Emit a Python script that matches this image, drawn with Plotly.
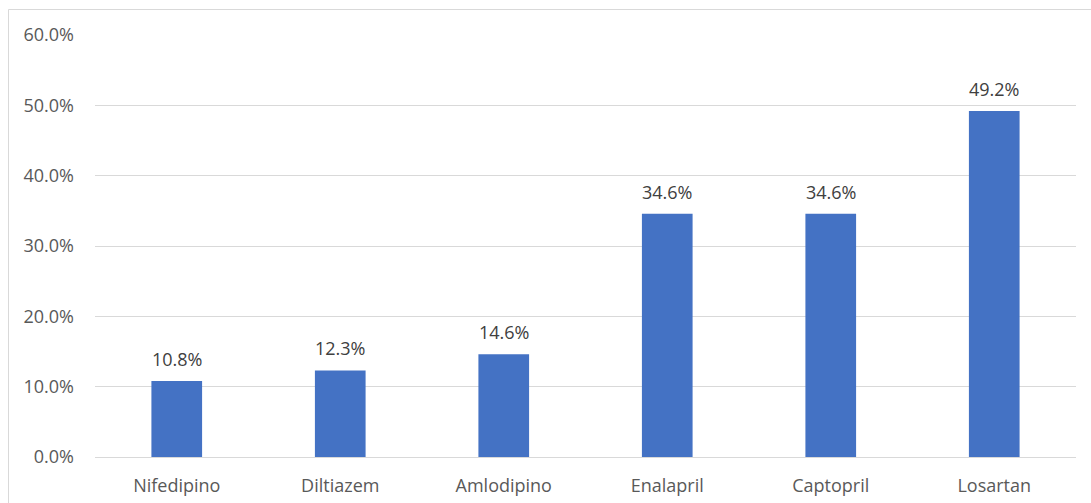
import plotly.graph_objects as go

# Drug names and share of use (%)
drugs = ["Nifedipino", "Diltiazem", "Amlodipino", "Enalapril", "Captopril", "Losartan"]
shares = [10.8, 12.3, 14.6, 34.6, 34.6, 49.2]
y_ticks = [0, 10, 20, 30, 40, 50, 60]
y_tick_labels = ["0.0%", "10.0%", "20.0%", "30.0%", "40.0%", "50.0%", "60.0%"]

W, H = 1091, 503
ML, MR, MT, MB = 95, 15, 35, 46
plot_w = W - ML - MR
plot_h = H - MT - MB
FONT = "Open Sans, sans-serif"
FS = 18

def px_x(x):
    return (x - ML) / plot_w

def px_y(y):
    return (H - MB - y) / plot_h

fig = go.Figure(
    go.Bar(
        x=drugs,
        y=shares,
        marker=dict(color="#4472C4", line=dict(width=0)),
        width=0.31,
        hoverinfo="x+y",
    )
)

# Value labels above each bar
for d, v in zip(drugs, shares):
    fig.add_annotation(
        x=d, y=v, xref="x", yref="y",
        text=f"{v:.1f}%", showarrow=False,
        yanchor="bottom", yshift=8,
        font=dict(family=FONT, size=FS, color="#404040"),
    )

# Outer chart frame (open at the bottom and right edge of the page)
fig.add_shape(
    type="path",
    xref="paper", yref="paper",
    path=f"M {px_x(8.5)},{px_y(530)} L {px_x(8.5)},{px_y(9.5)} L {px_x(1100)},{px_y(9.5)}",
    line=dict(color="#d9d9d9", width=1),
)

fig.update_layout(
    width=W, height=H,
    margin=dict(l=ML, r=MR, t=MT, b=MB, pad=0, autoexpand=False),
    paper_bgcolor="white",
    plot_bgcolor="white",
    showlegend=False,
    font=dict(family=FONT, size=FS, color="#595959"),
    xaxis=dict(
        automargin=False,
        showgrid=False, showline=False, zeroline=False,
        ticks="", tickfont=dict(family=FONT, size=FS, color="#595959"),
        ticklabelstandoff=16,
    ),
    yaxis=dict(
        automargin=False,
        range=[0, 60],
        tickvals=y_ticks,
        ticktext=y_tick_labels,
        showgrid=True, gridcolor="#d9d9d9", gridwidth=1,
        zeroline=True, zerolinecolor="#d9d9d9", zerolinewidth=1,
        showline=False, ticks="",
        tickfont=dict(family=FONT, size=FS, color="#595959"),
        ticklabelstandoff=20,
    ),
)

fig.write_html("out.html")
